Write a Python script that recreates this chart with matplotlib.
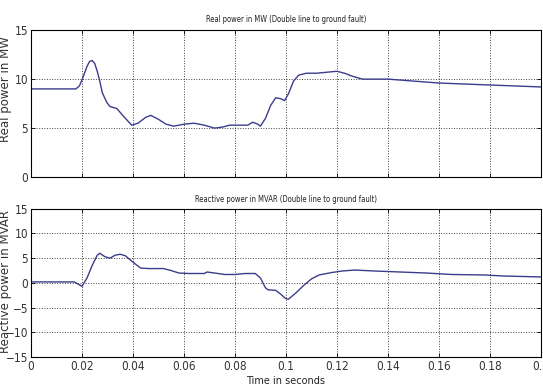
import matplotlib
matplotlib.use("Agg")
import matplotlib.pyplot as plt

# Real power (MW)
t_real = [0.000, 0.0176, 0.019, 0.020, 0.021, 0.022, 0.023, 0.024, 0.025, 0.026,
          0.027, 0.028, 0.0298, 0.031, 0.0337, 0.036, 0.0395, 0.042, 0.045, 0.047,
          0.050, 0.053, 0.056, 0.060, 0.064, 0.068, 0.072, 0.075, 0.078, 0.085,
          0.087, 0.089, 0.090, 0.092, 0.094, 0.096, 0.098, 0.0995, 0.101, 0.103,
          0.105, 0.108, 0.112, 0.116, 0.120, 0.123, 0.126, 0.130, 0.140, 0.150,
          0.160, 0.170, 0.180, 0.190, 0.200]
p_real = [9.0, 9.0, 9.3, 9.9, 10.6, 11.3, 11.8, 11.9, 11.6, 10.8,
          9.8, 8.6, 7.6, 7.2, 7.0, 6.3, 5.3, 5.5, 6.1, 6.3,
          5.9, 5.4, 5.2, 5.4, 5.5, 5.3, 5.0, 5.1, 5.3, 5.3,
          5.6, 5.4, 5.2, 6.0, 7.3, 8.1, 8.0, 7.8, 8.5, 9.8,
          10.4, 10.6, 10.6, 10.7, 10.8, 10.6, 10.3, 10.0, 10.0, 9.8,
          9.6, 9.5, 9.4, 9.3, 9.2]

# Reactive power (MVAR)
t_reac = [0.000, 0.017, 0.020, 0.022, 0.024, 0.026, 0.027, 0.029, 0.031, 0.033,
          0.035, 0.037, 0.040, 0.043, 0.046, 0.052, 0.055, 0.058, 0.062, 0.068,
          0.069, 0.072, 0.076, 0.080, 0.084, 0.088, 0.090, 0.092, 0.093, 0.096,
          0.098, 0.100, 0.101, 0.104, 0.107, 0.110, 0.113, 0.118, 0.122, 0.127,
          0.135, 0.145, 0.155, 0.165, 0.178, 0.185, 0.200]
q_reac = [0.2, 0.2, -0.7, 1.0, 3.5, 5.6, 6.0, 5.3, 5.0, 5.6,
          5.8, 5.5, 4.2, 3.0, 2.9, 2.9, 2.5, 2.0, 1.9, 1.9,
          2.2, 2.0, 1.7, 1.7, 1.9, 1.9, 1.0, -1.0, -1.4, -1.5,
          -2.3, -3.2, -3.3, -2.0, -0.5, 0.8, 1.6, 2.1, 2.4, 2.6,
          2.4, 2.2, 2.0, 1.7, 1.6, 1.4, 1.2]

x_ticks = [0, 0.02, 0.04, 0.06, 0.08, 0.1, 0.12, 0.14, 0.16, 0.18, 0.2]
x_labels = ["0", "0.02", "0.04", "0.06", "0.08", "0.1", "0.12", "0.14", "0.16", "0.18", "0.2"]

LINE_COLOR = "#3c3c8c"
NARROW = dict(family="DejaVu Sans", stretch="condensed")

fig = plt.figure(figsize=(5.43, 3.91), dpi=100)
ax1 = fig.add_axes([0.057, 0.547, 0.939, 0.376])
ax2 = fig.add_axes([0.057, 0.087, 0.939, 0.379])


def style_axis(ax):
    ax.set_xlim(0, 0.2)
    ax.set_xticks(x_ticks)
    ax.grid(True, color="black", linestyle=":", linewidth=0.7, alpha=0.75)
    ax.tick_params(direction="in", top=True, right=True, length=3, width=0.6,
                   labelsize=8.5, pad=2)
    for lbl in ax.get_xticklabels() + ax.get_yticklabels():
        lbl.set_fontstretch("condensed")
        lbl.set_color("#333333")
    for s in ax.spines.values():
        s.set_linewidth(0.8)


ax1.plot(t_real, p_real, color=LINE_COLOR, linewidth=1.0)
ax1.set_ylim(0, 15)
ax1.set_yticks([0, 5, 10, 15])
ax1.set_xticklabels([])
style_axis(ax1)
ax1.set_title("Real power in MW (Double line to ground fault)", fontsize=5.5,
              pad=6, color="#222222", **NARROW)
ax1.set_ylabel("Real power in MW", fontsize=8.5, color="#333333")
ax1.yaxis.set_label_coords(-0.037, 0.60)

ax2.plot(t_reac, q_reac, color=LINE_COLOR, linewidth=1.0)
ax2.set_ylim(-15, 15)
ax2.set_yticks([-15, -10, -5, 0, 5, 10, 15])
ax2.set_xticklabels(x_labels)
style_axis(ax2)
ax2.set_title("Reactive power in MVAR (Double line to ground fault)", fontsize=5.5,
              pad=5, color="#222222", **NARROW)
ax2.set_ylabel("Reactive power in MVAR", fontsize=8.5, color="#333333")
ax2.yaxis.set_label_coords(-0.037, 0.51)
ax2.set_xlabel("Time in seconds", fontsize=7, labelpad=2, color="#222222")

fig.savefig("out.png", dpi=100)
